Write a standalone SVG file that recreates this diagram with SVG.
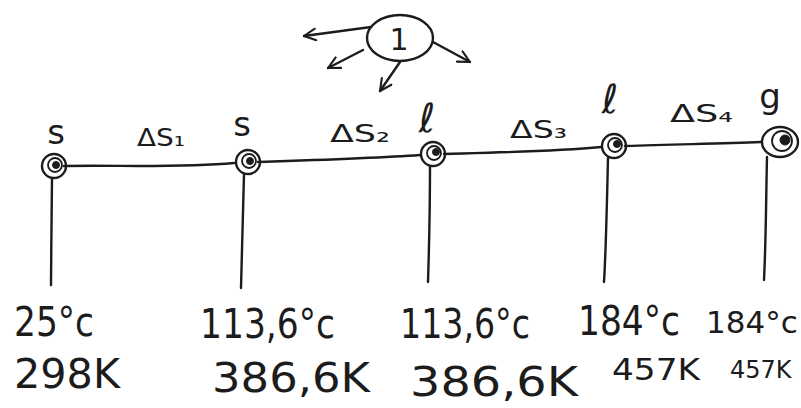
<svg xmlns="http://www.w3.org/2000/svg" width="801" height="408" viewBox="0 0 801 408">
<defs>
<marker id="open" viewBox="0 0 12 12" refX="11" refY="6" markerWidth="14" markerHeight="14" markerUnits="userSpaceOnUse" orient="auto">
<path d="M1,1 L11,6 L1,11" fill="none" stroke="#1c1c1c" stroke-width="1.8" stroke-linecap="round" stroke-linejoin="round"/>
</marker>
</defs>
<style>
.ink{fill:none;stroke:#1c1c1c;stroke-width:2.4;stroke-linecap:round;stroke-linejoin:round}
.thin{fill:none;stroke:#1c1c1c;stroke-width:1.8;stroke-linecap:round}
.dot{fill:#1c1c1c;stroke:#1c1c1c;stroke-width:1}
.t{font-family:"DejaVu Sans","Liberation Sans",sans-serif;fill:#1c1c1c}
.top{font-size:34px}
.lab{font-size:24px}
.bot{font-size:40px}
.sm{font-size:30px}
</style>
<rect width="801" height="408" fill="#ffffff"/>
<g id="connectors">
<path class="ink" d="M64,166 C120,165 180,168 234,163"/>
<path class="ink" d="M258,162 C320,160 380,158 420,155"/>
<path class="ink" d="M444,154 C500,152 550,152 601,147"/>
<path class="ink" d="M625,146 C680,144 720,144 761,142"/>
<path class="ink" d="M371,27 L304,36" marker-end="url(#open)"/>
<path class="ink" d="M363,50 L328,68" marker-end="url(#open)"/>
<path class="ink" d="M400,62 L380,91" marker-end="url(#open)"/>
<path class="ink" d="M433,42 L470,62" marker-end="url(#open)"/>
</g>
<g id="node-1">
<ellipse class="ink" cx="400" cy="38" rx="33" ry="23"/>
<text class="t" font-size="30" x="399" y="50" text-anchor="middle">1</text>
</g>
<g id="node-s1">
<circle class="ink" cx="54" cy="166" r="12"/>
<circle class="thin" cx="55" cy="165" r="7"/>
<circle class="dot" cx="56" cy="165" r="3.5"/>
<path class="ink" d="M52,178 C52,210 51,250 51,285"/>
<text class="t top" x="56" y="144" text-anchor="middle">s</text>
<text class="t bot" x="14" y="336" textLength="80" lengthAdjust="spacingAndGlyphs">25°c</text>
<text class="t bot" x="14" y="388" textLength="106" lengthAdjust="spacingAndGlyphs">298K</text>
</g>
<g id="node-s2">
<circle class="ink" cx="248" cy="162" r="12"/>
<circle class="thin" cx="249" cy="161" r="7"/>
<circle class="dot" cx="250" cy="161" r="3.5"/>
<path class="ink" d="M244,174 C243,210 242,250 241,288"/>
<text class="t top" x="242" y="136" text-anchor="middle">s</text>
<text class="t bot" x="200" y="338" textLength="135" lengthAdjust="spacingAndGlyphs">113,6°c</text>
<text class="t bot" x="212" y="392" textLength="158" lengthAdjust="spacingAndGlyphs">386,6K</text>
</g>
<g id="node-l1">
<circle class="ink" cx="433" cy="154" r="12"/>
<circle class="thin" cx="434" cy="153" r="7"/>
<circle class="dot" cx="436" cy="152" r="3.5"/>
<path class="ink" d="M430,166 C430,200 429,250 428,282"/>
<text class="t" font-size="40" x="427" y="132" text-anchor="middle" font-style="italic">ℓ</text>
<text class="t bot" x="400" y="338" textLength="130" lengthAdjust="spacingAndGlyphs">113,6°c</text>
<text class="t bot" x="410" y="396" textLength="168" lengthAdjust="spacingAndGlyphs">386,6K</text>
</g>
<g id="node-l2">
<circle class="ink" cx="614" cy="146" r="12"/>
<circle class="thin" cx="615" cy="145" r="7"/>
<circle class="dot" cx="617" cy="144" r="3.5"/>
<path class="ink" d="M608,158 C607,200 606,250 604,282"/>
<text class="t" font-size="40" x="610" y="113" text-anchor="middle" font-style="italic">ℓ</text>
<text class="t bot" x="578" y="335" textLength="102" lengthAdjust="spacingAndGlyphs">184°c</text>
<text class="t sm" x="612" y="380" textLength="88" lengthAdjust="spacingAndGlyphs">457K</text>
</g>
<g id="node-g">
<ellipse class="ink" cx="780" cy="142" rx="18" ry="15"/>
<circle class="thin" cx="782" cy="141" r="10"/>
<circle class="dot" cx="785" cy="140" r="5"/>
<path class="ink" d="M767,157 C766,200 766,240 764,280"/>
<text class="t top" x="770" y="108" text-anchor="middle">g</text>
<text class="t" font-size="31" x="706" y="333">184°c</text>
<text class="t" font-size="24" x="730" y="378">457K</text>
</g>
<g id="labels">
<text class="t lab" x="137" y="146" textLength="48" lengthAdjust="spacingAndGlyphs">ΔS₁</text>
<text class="t lab" x="330" y="142" textLength="60" lengthAdjust="spacingAndGlyphs">ΔS₂</text>
<text class="t lab" x="510" y="138" textLength="57" lengthAdjust="spacingAndGlyphs">ΔS₃</text>
<text class="t lab" x="670" y="122" textLength="63" lengthAdjust="spacingAndGlyphs">ΔS₄</text>
</g>
</svg>
